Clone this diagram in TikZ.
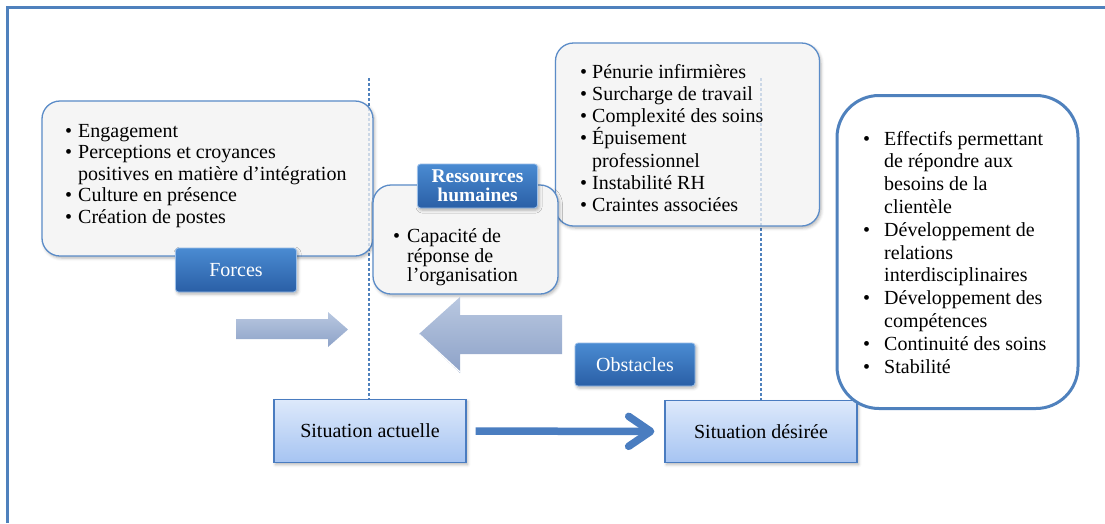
\documentclass[tikz,border=0pt]{standalone}
\usepackage{fontspec}
\setmainfont{Liberation Serif}
\usetikzlibrary{shadows.blur,arrows.meta}

\definecolor{frameblue}{HTML}{4F81BD}
\definecolor{boxline}{HTML}{5B8CC8}
\definecolor{panelfill}{HTML}{F5F5F5}
\definecolor{tagtop}{HTML}{4A8BD2}
\definecolor{tagbot}{HTML}{2A5FA6}
\definecolor{tagrim}{HTML}{9CC0EA}
\definecolor{sittop}{HTML}{DDE9FB}
\definecolor{sitbot}{HTML}{A6C4F2}
\definecolor{sitline}{HTML}{4A7CC0}
\definecolor{arrtop}{HTML}{B9C8E0}
\definecolor{arrbot}{HTML}{8DA2C8}
\definecolor{linkblue}{HTML}{4A7DC0}

% bullet line and continuation line of a list
\newcommand\bitem[2][13pt]{\strut\makebox[#1][l]{\textbullet}#2}
\newcommand\citem[2][13pt]{\strut\hspace*{#1}#2}
% list font with fixed line pitch
\newcommand\listfont[1]{\fontsize{20}{#1}\selectfont\lineskiplimit=-100pt}

\tikzset{
  softshadow/.style={blur shadow={shadow xshift=1.5pt, shadow yshift=-2pt,
      shadow blur radius=3pt, shadow opacity=30}},
  panel/.style={draw=boxline, line width=1.3pt, fill=panelfill,
      rounded corners=18pt, softshadow, inner sep=0pt},
  goalbox/.style={draw=frameblue, line width=3pt, fill=white,
      rounded corners=42pt, inner sep=0pt},
  tag/.style={draw=tagrim, line width=0.8pt, top color=tagtop, bottom color=tagbot,
      rounded corners=3pt, text=white, softshadow, inner sep=0pt,
      font=\fontsize{20}{22}\selectfont},
  situation/.style={draw=sitline, line width=1.2pt, top color=sittop, bottom color=sitbot,
      softshadow, inner sep=0pt, font=\fontsize{20}{22}\selectfont},
  listtext/.style={anchor=north west, inner sep=0pt, align=left},
  guide/.style={draw=frameblue, line width=1.2pt, dash pattern=on 3pt off 2pt},
  fatarrow/.style={top color=arrtop, bottom color=arrbot, draw=none},
  mainlink/.style={draw=linkblue, line width=7.5pt,
      -{Straight Barb[length=22pt,width=30pt,round]}},
}

\begin{document}
\begin{tikzpicture}[x=1pt, y=-1pt]
\useasboundingbox (0,0) rectangle (1105,523);

% outer frame (left and top edges)
\draw[frameblue, line width=3pt] (7,523) -- (7,7) -- (1105,7);

% dashed guides
\coordinate (guideA) at (369,78);
\coordinate (guideB) at (761,78);

% situation boxes
\node[situation, minimum width=192pt, minimum height=63pt] (actuelle) at (370,431) {Situation actuelle};
\node[situation, minimum width=192pt, minimum height=62pt] (desiree) at (761,431.5) {Situation désirée};

\draw[guide] (guideA) -- (guideA |- actuelle.north);
\draw[guide] (guideB) -- (guideB |- desiree.north);

% forces panel
\node[panel, minimum width=331pt, minimum height=155pt] (forcesbox) at (207.5,178.5) {};

% obstacles panel
\node[panel, minimum width=264pt, minimum height=183pt] (obstbox) at (687.5,134.5) {};

% guides faintly seen through the panels
\draw[guide, opacity=0.25] (guideA) -- (guideA |- forcesbox.south);
\draw[guide, opacity=0.25] (guideB) -- (guideB |- obstbox.south);

\node[listtext, font=\listfont{21.5}] (forcestext) at (65,121.9)
  {\bitem{Engagement}\\ \bitem{Perceptions et croyances}\\ \citem{positives en matière d’intégration}\\
   \bitem{Culture en présence}\\ \bitem{Création de postes}};

\node[listtext, font=\listfont{22.2}] (obsttext) at (580,62.5)
  {\bitem[12pt]{Pénurie infirmières}\\ \bitem[12pt]{Surcharge de travail}\\
   \bitem[12pt]{Complexité des soins}\\ \bitem[12pt]{Épuisement}\\ \citem[12pt]{professionnel}\\
   \bitem[12pt]{Instabilité RH}\\ \bitem[12pt]{Craintes associées}};

% human resources panel
\node[panel, minimum width=185pt, minimum height=109pt] (rhbox) at (465.5,239.5) {};
\node[listtext, font=\listfont{19.5}] (rhtext) at (393,228.4)
  {\bitem[14pt]{Capacité de}\\ \citem[14pt]{réponse de}\\ \citem[14pt]{l’organisation}};

% desired outcomes panel
\node[goalbox, minimum width=241pt, minimum height=313pt] (goalbox) at (957.5,252) {};
\node[listtext, font=\listfont{22.8}] (goaltext) at (863,129)
  {\bitem[21pt]{Effectifs permettant}\\ \citem[21pt]{de répondre aux}\\ \citem[21pt]{besoins de la}\\
   \citem[21pt]{clientèle}\\ \bitem[21pt]{Développement de}\\ \citem[21pt]{relations}\\
   \citem[21pt]{interdisciplinaires}\\ \bitem[21pt]{Développement des}\\ \citem[21pt]{compétences}\\
   \bitem[21pt]{Continuité des soins}\\ \bitem[21pt]{Stabilité}};

% labels
\node[tag, minimum width=121pt, minimum height=44pt] (forcestag) at (236,270) {Forces};
\node[tag, minimum width=120pt, minimum height=44pt, align=center,
      font=\fontsize{19.5}{19}\selectfont\bfseries] (rhtag) at (477.5,186) {Ressources\\humaines};
\node[tag, minimum width=120pt, minimum height=43pt] (obsttag) at (635,364.5) {Obstacles};

% broad arrows
\path[fatarrow] (236,319) -- (328,319) -- (328,312) -- (348,329.5) -- (328,347) -- (328,339) -- (236,339) -- cycle;
\path[fatarrow] (562,315) -- (460,315) -- (460,297) -- (419,334) -- (460,373) -- (460,354) -- (562,354) -- cycle;
\draw[white, line width=1.2pt] (419.5,334.5) -- (460,372);

% transition arrow
\draw[mainlink, shorten <=9pt, shorten >=10pt] (actuelle) -- (desiree);
\end{tikzpicture}
\end{document}
